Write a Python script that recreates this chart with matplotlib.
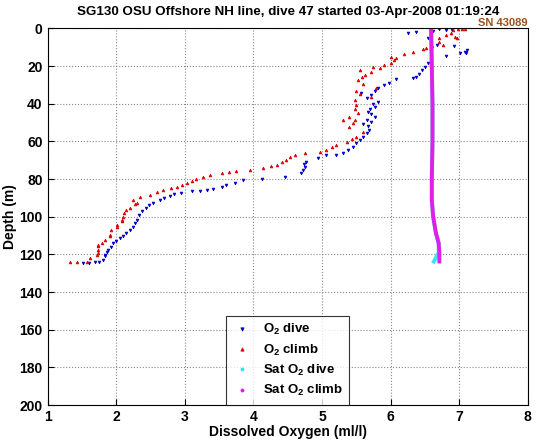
import matplotlib
matplotlib.use('Agg')
import matplotlib.pyplot as plt

plt.rcParams['font.family'] = ['Liberation Sans', 'DejaVu Sans']
plt.rcParams['font.weight'] = 'bold'
plt.rcParams['mathtext.fontset'] = 'custom'
plt.rcParams['mathtext.bf'] = 'Liberation Sans:bold'
plt.rcParams['mathtext.rm'] = 'Liberation Sans:bold'

# dive (downcast) O2 readings: depth (m), O2 (ml/l)
dive_depth = [0.5, 0.8, 1.0, 1.2, 2.1, 2.6, 5, 8.8, 9.3, 11.5, 12.3, 12.9, 13, 14.6, 16.8, 18.5,
              20.3, 22, 24, 25.6, 26.3, 27, 29, 30, 31.6, 33, 34.4, 35.3, 37, 38.9, 40, 41.5,
              43, 44.2, 45.5, 46.8, 48.6, 49.5, 50.5, 52, 54, 55.6, 57.5, 59.2, 61, 62.8, 64.5,
              66.3, 67.2, 67.2, 68.9, 70.7, 72, 73.4, 75, 76.9, 79, 80, 80.4, 81.9, 83, 84,
              85.2, 85.7, 86.1, 86.6, 87.2, 88, 88.9, 90, 91, 92.8, 94, 95.4, 97.2, 99, 101.6,
              103.5, 105.2, 107, 108.7, 110, 111.4, 112.7, 114, 116, 117.6, 119, 120.2, 121,
              122.9, 124.2, 124.3, 124.5, 124.6]
dive_o2 = [6.7, 6.8, 6.9, 6.62, 6.37, 6.25, 6.54, 6.68, 6.93, 7.12, 7.08, 7.1, 7.01, 6.81, 6.59, 6.55,
           6.5, 6.45, 6.41, 6.37, 6.32, 6.08, 5.98, 5.91, 5.81, 5.77, 5.57, 5.72, 5.65, 5.81, 5.75, 5.77,
           5.7, 5.67, 5.72, 5.77, 5.65, 5.72, 5.6, 5.67, 5.68, 5.65, 5.6, 5.55, 5.5, 5.45, 5.38,
           5.31, 5.21, 5.06, 4.94, 4.77, 4.74, 4.75, 4.72, 4.7, 4.46, 4.12, 3.85, 3.73, 3.6, 3.54,
           3.41, 3.32, 3.22, 3.1, 2.95, 2.85, 2.78, 2.7, 2.64, 2.54, 2.48, 2.44, 2.37, 2.33, 2.3,
           2.27, 2.25, 2.2, 2.15, 2.1, 2.06, 2.0, 1.96, 1.92, 1.88, 1.86, 1.84, 1.84,
           1.81, 1.75, 1.69, 1.6, 1.52]

# climb (upcast) O2 readings
climb_depth = [123.8, 123.8, 123.8, 122, 120.5, 119.3, 117.5, 115.8, 114.9, 114, 112.3, 110.5, 109.6,
               107, 105.2, 104.3, 102.5, 101.6, 99.9, 98, 96.3, 95.4, 93.5, 92.8, 91, 89.6, 88.4, 87,
               85.7, 84.8, 84, 83, 82.2, 81, 80, 79, 77.8, 76.9, 76.2, 75.5, 75.1, 74.2, 73.3, 72.5,
               71, 69.8, 68.5, 67.2, 66.3, 65.4, 64.5, 63, 61.9, 60.1, 58.8, 57.5, 54.8, 52.1, 50.4,
               48.6, 48.6, 46.8, 45, 43, 40.6, 38, 36.2, 35, 33, 31.8, 29.5, 27.4, 26, 24.7, 23, 22,
               21.2, 20.3, 19.5, 18.5, 17, 15.9, 15, 13.5, 12.3, 11.1, 10.6, 9.5, 8.8, 7, 5.3, 5.3,
               4.5, 3.5, 2.5, 0.9, 0.5, 0.3, 0.2]
climb_o2 = [1.33, 1.43, 1.57, 1.62, 1.72, 1.74, 1.73, 1.74, 1.74, 1.79, 1.84, 1.91, 1.91,
            1.93, 2.01, 2.01, 2.08, 2.08, 2.1, 2.12, 2.15, 2.2, 2.28, 2.3, 2.25, 2.35, 2.49, 2.6,
            2.69, 2.8, 2.88, 2.96, 3.03, 3.1, 3.17, 3.27, 3.37, 3.54, 3.65, 3.75, 3.95, 4.14, 4.25, 4.34,
            4.42, 4.48, 4.54, 4.6, 4.75, 4.97, 5.06, 5.14, 5.21, 5.36, 5.43, 5.5, 5.6, 5.4, 5.45,
            5.31, 5.48, 5.4, 5.52, 5.48, 5.5, 5.48, 5.72, 5.55, 5.5, 5.79, 5.6, 5.52, 5.58, 5.62, 5.72, 5.55,
            5.84, 5.74, 5.9, 6.01, 6.05, 6.08, 6.01, 6.2, 6.33, 6.47, 6.52, 6.6, 6.76, 6.7, 6.71, 6.96,
            6.94, 6.81, 6.88, 6.91, 6.98, 7.04, 7.08]

# saturation O2
sat_depth = [0, 20, 40, 60, 80, 91, 100, 108.7, 114, 119, 123.8]
sat_climb = [6.59, 6.6, 6.61, 6.61, 6.6, 6.6, 6.62, 6.66, 6.7, 6.71, 6.71]
sat_dive = [6.59, 6.6, 6.61, 6.61, 6.6, 6.6, 6.62, 6.66, 6.7, 6.7, 6.63]

fig = plt.figure(figsize=(5.37, 4.42), dpi=100)
ax = fig.add_axes([0.0885, 0.0837, 0.8945, 0.852])

ax.plot(dive_o2, dive_depth, 'v', color='#0000c8', ms=2.0, mew=0.5, label=r'$\mathbf{O_2}$ dive')
ax.plot(climb_o2, climb_depth, '^', color='#dd0000', ms=2.0, mew=0.5, label=r'$\mathbf{O_2}$ climb')
ax.plot(sat_dive, sat_depth, color='#40e0f0', lw=2.8)
ax.plot(sat_climb, sat_depth, color='#e020e8', lw=2.8)
ax.plot([], [], '.', color='#40e0f0', ms=3, label=r'Sat $\mathbf{O_2}$ dive')
ax.plot([], [], '.', color='#e020e8', ms=3, label=r'Sat $\mathbf{O_2}$ climb')

ax.set_xlim(1, 8)
ax.set_ylim(200, 0)
ax.set_xticks(range(1, 9))
ax.set_yticks(range(0, 201, 20))
ax.tick_params(direction='in', labelsize=10, length=4)
for lab in ax.get_xticklabels() + ax.get_yticklabels():
    lab.set_fontweight('bold')
ax.grid(True, linestyle=':', color='#888888', lw=0.8)

ax.set_xlabel('Dissolved Oxygen (ml/l)', fontsize=10, fontweight='bold', labelpad=1)
ax.set_ylabel('Depth (m)', fontsize=10, fontweight='bold', labelpad=2)
ax.set_title('SG130 OSU Offshore NH line, dive 47 started 03-Apr-2008 01:19:24',
             fontsize=9.6, fontweight='bold', pad=10)
ax.text(1.0, 1.002, 'SN 43089', transform=ax.transAxes, ha='right', va='bottom',
        fontsize=8, color='#a0501a')

leg = ax.legend(loc='lower center', bbox_to_anchor=(0.5, 0.0), borderaxespad=0,
                fancybox=False, edgecolor='black', fontsize=9.5, handletextpad=0.8,
                labelspacing=0.4, markerscale=1.2, handlelength=1.5, borderpad=0.5)
leg.get_frame().set_linewidth(0.8)
for t in leg.get_texts():
    t.set_fontweight('bold')

fig.savefig('out.png', dpi=100)
